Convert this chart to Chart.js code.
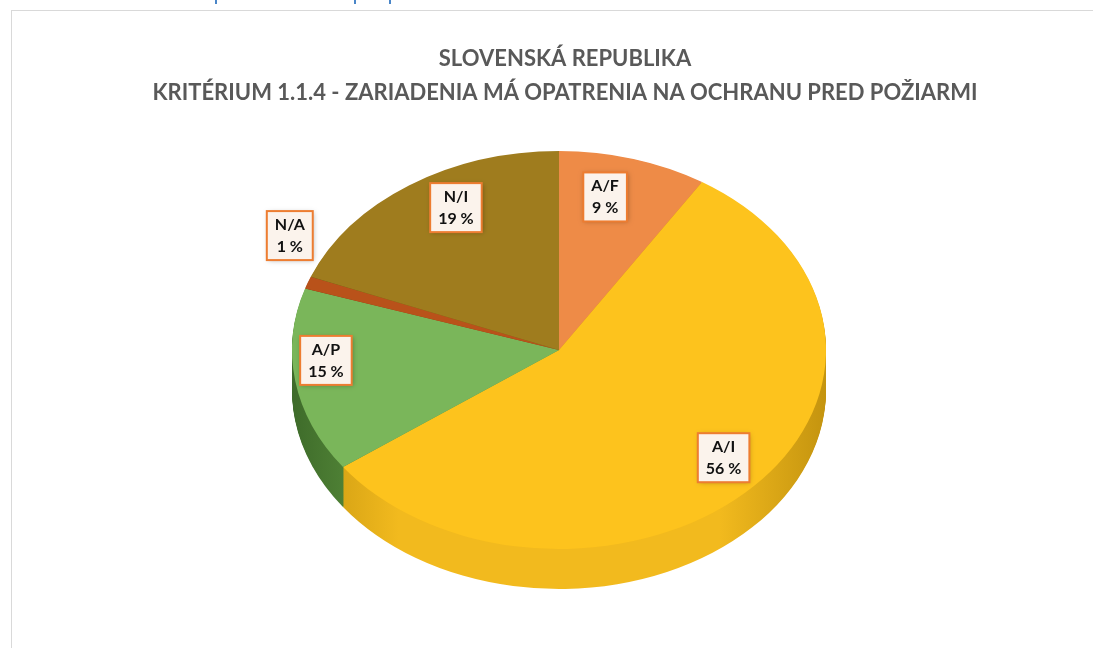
<!DOCTYPE html>
<html>
<head>
<meta charset="utf-8">
<script src="https://cdn.jsdelivr.net/npm/chart.js@4.4.0/dist/chart.umd.min.js"></script>
<style>
  html, body { margin: 0; padding: 0; background: #fff; overflow: hidden; }
  body { width: 1093px; height: 648px; position: relative; }
  #frame { position: absolute; left: 11px; top: 10px; width: 1200px; height: 700px; border: 1px solid #d9d9d9; }
  .tick { position: absolute; top: 0; width: 2px; height: 4px; background: #4a86c8; }
  #wrap { position: absolute; left: 0; top: 0; width: 1130px; height: 648px; }
</style>
</head>
<body>
<div class="tick" style="left:215px"></div>
<div class="tick" style="left:354px"></div>
<div class="tick" style="left:389px"></div>
<div id="frame"></div>
<div id="wrap"><canvas id="myChart" width="1130" height="648"></canvas></div>
<script>
// data
var categories = ['A/F', 'A/I', 'A/P', 'N/A', 'N/I'];
var percentValues = [9, 56, 15, 1, 19];
var titleLines = ['SLOVENSKÁ REPUBLIKA', 'KRITÉRIUM 1.1.4 - ZARIADENIA MÁ OPATRENIA NA OCHRANU PRED POŽIARMI'];

var topColors = ['#ee8b47', '#fdc31d', '#7ab65a', '#b9521a', '#9f7c1e'];
var sideColors = ['#d0702e', '#f2ba1e', '#5f9640', '#8e3e12', '#7a5e14'];
var sideEdgeColors = ['#a85520', '#c4940f', '#3e6b2a', '#6e300e', '#5c460e'];

// tilted pie: where the top face goes on screen
var pie3d = {
    cx: 559, cy: 350, rx: 267, ry: 199, depth: 40,
    labelRadius: [0.78, 0.82, 0.88, 1.0, 0.78],
    labelNudge: [[-12, -4], [5, -4], [-1, -17], [-18, -47], [14, -14]]
};

function wedge(ctx, a) {
    ctx.beginPath();
    ctx.moveTo(a.x, a.y);
    ctx.arc(a.x, a.y, a.outerRadius, a.startAngle, a.endAngle);
    ctx.closePath();
}

function toScreen(ctx, a) {
    var s = pie3d.rx / a.outerRadius, t = pie3d.ry / a.outerRadius;
    ctx.translate(pie3d.cx, pie3d.cy);
    ctx.scale(s, t);
    ctx.translate(-a.x, -a.y);
}

var tiltPlugin = {
    id: 'tilt',
    beforeDatasetsDraw: function (chart) {
        var ctx = chart.ctx;
        var arcs = chart.getDatasetMeta(0).data;
        if (!arcs.length) return;
        // side of the disc, drawn as stacked layers
        var grads = arcs.map(function (a, i) {
            var g = ctx.createLinearGradient(pie3d.cx - pie3d.rx, 0, pie3d.cx + pie3d.rx, 0);
            g.addColorStop(0, sideEdgeColors[i]);
            g.addColorStop(0.2, sideColors[i]);
            g.addColorStop(0.5, sideColors[i]);
            g.addColorStop(0.8, sideColors[i]);
            g.addColorStop(1, sideEdgeColors[i]);
            return g;
        });
        for (var d = pie3d.depth; d >= 1; d--) {
            arcs.forEach(function (a, i) {
                ctx.save();
                ctx.translate(0, d);
                toScreen(ctx, a);
                wedge(ctx, a);
                ctx.restore();
                ctx.fillStyle = grads[i];
                ctx.fill();
            });
        }
        ctx.save();
        toScreen(ctx, arcs[0]);
    },
    afterDatasetsDraw: function (chart) {
        var ctx = chart.ctx;
        var arcs = chart.getDatasetMeta(0).data;
        if (!arcs.length) return;
        ctx.restore();
        // data labels
        ctx.save();
        ctx.font = 'bold 16px Lato';
        ctx.textAlign = 'center';
        ctx.textBaseline = 'middle';
        arcs.forEach(function (a, i) {
            var mid = (a.startAngle + a.endAngle) / 2;
            var r = pie3d.labelRadius[i];
            var x = pie3d.cx + Math.cos(mid) * pie3d.rx * r + pie3d.labelNudge[i][0];
            var y = pie3d.cy + Math.sin(mid) * pie3d.ry * r + pie3d.labelNudge[i][1];
            var l1 = categories[i], l2 = percentValues[i] + ' %';
            var w = Math.max(ctx.measureText(l1).width, ctx.measureText(l2).width) + 16;
            var h = 49;
            ctx.save();
            ctx.shadowColor = 'rgba(0,0,0,0.3)';
            ctx.shadowBlur = 5;
            ctx.shadowOffsetX = 1;
            ctx.shadowOffsetY = 1;
            ctx.fillStyle = '#fbf3ec';
            ctx.fillRect(x - w / 2, y - h / 2, w, h);
            ctx.restore();
            ctx.lineWidth = 2;
            ctx.strokeStyle = '#ed7d31';
            ctx.strokeRect(x - w / 2, y - h / 2, w, h);
            ctx.fillStyle = '#111';
            ctx.fillText(l1, x, y - 11);
            ctx.fillText(l2, x, y + 11);
        });
        ctx.restore();
    }
};

var myChart = new Chart('myChart', {
    type: 'pie',
    data: {
        labels: categories,
        datasets: [{
            data: percentValues,
            backgroundColor: topColors,
            borderWidth: 0
        }]
    },
    options: {
        responsive: false,
        animation: false,
        layout: { padding: { top: 0, bottom: 20 } },
        plugins: {
            legend: { display: false },
            tooltip: { enabled: false },
            title: {
                display: true,
                text: titleLines,
                color: '#595959',
                font: { family: 'Lato', size: 22, weight: 'bold', lineHeight: 1.55 },
                padding: { top: 42, bottom: 10 }
            }
        }
    },
    plugins: [tiltPlugin]
});
</script>
</body>
</html>
